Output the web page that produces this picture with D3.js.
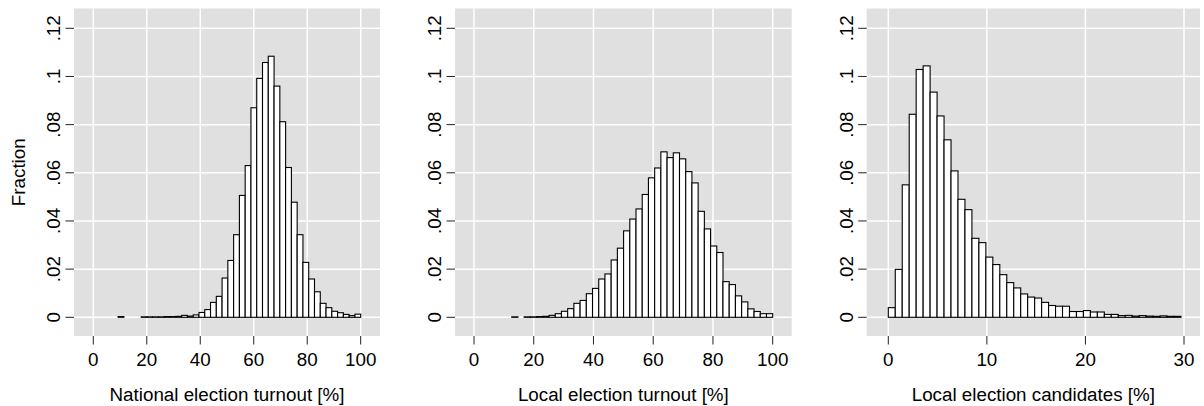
<!DOCTYPE html>
<html>
<head>
<meta charset="utf-8">
<script src="https://cdn.jsdelivr.net/npm/d3@7"></script>
<style>
body { margin: 0; background: #fff; }
text { font-family: "Liberation Sans", Arial, sans-serif; fill: #000; }
</style>
</head>
<body>
<svg id="chart" width="1204" height="406"></svg>
<script>
var yTicks = [0, 0.02, 0.04, 0.06, 0.08, 0.1, 0.12];
var yTickLabels = ["0", ".02", ".04", ".06", ".08", ".1", ".12"];

// national election turnout, 42 bins
var nationalTicks = [0, 20, 40, 60, 80, 100];
var nationalBinStart = 9.28;
var nationalBinWidth = 2.16;
var nationalFraction = [
    0.0003, 0, 0, 0, 0.0002, 0.0002, 0.0002, 0.0002, 0.0003, 0.0003,
    0.0004, 0.0008, 0.0005, 0.001, 0.002, 0.0032, 0.0062, 0.0087, 0.0163, 0.0236,
    0.0343, 0.0506, 0.063, 0.087, 0.0992, 0.1058, 0.1084, 0.096, 0.0812, 0.0622,
    0.0478, 0.0343, 0.0228, 0.0159, 0.0106, 0.0058, 0.004, 0.0025, 0.0019, 0.0012,
    0.0007, 0.0013
];

// local election turnout, 42 bins
var localTicks = [0, 20, 40, 60, 80, 100];
var localBinStart = 12.64;
var localBinWidth = 2.08;
var localFraction = [
    0.0002, 0, 0.0002, 0.0002, 0.0003, 0.0004, 0.0008, 0.0015, 0.0025, 0.0036,
    0.0058, 0.007, 0.0098, 0.012, 0.0159, 0.018, 0.0238, 0.0287, 0.0359, 0.0408,
    0.045, 0.051, 0.0579, 0.062, 0.0687, 0.0663, 0.0683, 0.0658, 0.0605, 0.0558,
    0.044, 0.0367, 0.0296, 0.0269, 0.0148, 0.0136, 0.0089, 0.0064, 0.0035, 0.0024,
    0.0015, 0.0015
];

// local election candidates, 42 bins
var candTicks = [0, 10, 20, 30];
var candBinStart = 0;
var candBinWidth = 0.707;
var candFraction = [
    0.004, 0.0199, 0.055, 0.0843, 0.1029, 0.1044, 0.0935, 0.0836, 0.0737, 0.0608,
    0.049, 0.0447, 0.0328, 0.031, 0.025, 0.0219, 0.0177, 0.0144, 0.0122, 0.0097,
    0.0084, 0.008, 0.0062, 0.0049, 0.0046, 0.0046, 0.0024, 0.0024, 0.0028, 0.0022,
    0.0022, 0.0012, 0.0012, 0.0007, 0.0008, 0.0005, 0.0007, 0.0005, 0.0004, 0.0006,
    0.0004, 0.0004
];

var panels = [
    {title: "National election turnout [%]", ticks: nationalTicks, values: nationalFraction,
     start: nationalBinStart, width: nationalBinWidth,
     left: 74, right: 380, tick0: 93.3, tickEnd: 360.7, ylabel: "Fraction"},
    {title: "Local election turnout [%]", ticks: localTicks, values: localFraction,
     start: localBinStart, width: localBinWidth,
     left: 455, right: 791.7, tick0: 474, tickEnd: 772.7},
    {title: "Local election candidates [%]", ticks: candTicks, values: candFraction,
     start: candBinStart, width: candBinWidth,
     left: 866.7, right: 1200, tick0: 888.3, tickEnd: 1184}
];

var plotTop = 8.5, plotBottom = 336;
var fontSize = 18.8;
var svg = d3.select("#chart");

var y = d3.scaleLinear().domain([0, 0.12]).range([317.3, 28.3]);

function drawPanel(p) {
    var x = d3.scaleLinear()
        .domain([p.ticks[0], p.ticks[p.ticks.length - 1]])
        .range([p.tick0, p.tickEnd]);
    var g = svg.append("g");

    g.append("rect")
        .attr("x", p.left).attr("y", plotTop)
        .attr("width", p.right - p.left).attr("height", plotBottom - plotTop)
        .attr("fill", "#e0e0e0");

    // grid
    g.selectAll("line.hgrid").data(yTicks).enter().append("line")
        .attr("x1", p.left).attr("x2", p.right)
        .attr("y1", function(d) { return y(d); }).attr("y2", function(d) { return y(d); })
        .attr("stroke", "#fff").attr("stroke-width", 1.5);
    g.selectAll("line.vgrid").data(p.ticks).enter().append("line")
        .attr("x1", function(d) { return x(d); }).attr("x2", function(d) { return x(d); })
        .attr("y1", plotTop).attr("y2", plotBottom)
        .attr("stroke", "#fff").attr("stroke-width", 1.5);

    // bars (empty bins are not drawn)
    var bins = p.values.map(function(v, i) { return {x0: p.start + i * p.width, v: v}; })
        .filter(function(b) { return b.v > 0; });
    g.selectAll("rect.bar").data(bins).enter().append("rect")
        .attr("class", "bar")
        .attr("x", function(b) { return x(b.x0); })
        .attr("width", x(p.width) - x(0))
        .attr("y", function(b) { return y(b.v); })
        .attr("height", function(b) { return y(0) - y(b.v); })
        .attr("fill", "#fff").attr("stroke", "#000").attr("stroke-width", 1.1);

    // y axis ticks and labels
    g.selectAll("line.ytick").data(yTicks).enter().append("line")
        .attr("x1", p.left - 8.5).attr("x2", p.left)
        .attr("y1", function(d) { return y(d); }).attr("y2", function(d) { return y(d); })
        .attr("stroke", "#222").attr("stroke-width", 1);
    g.selectAll("text.ylab").data(yTicks).enter().append("text")
        .attr("transform", function(d) { return "translate(" + (p.left - 14) + "," + y(d) + ") rotate(-90)"; })
        .attr("text-anchor", "middle")
        .style("font-size", fontSize + "px")
        .text(function(d, i) { return yTickLabels[i]; });

    // x axis ticks and labels
    g.selectAll("line.xtick").data(p.ticks).enter().append("line")
        .attr("x1", function(d) { return x(d); }).attr("x2", function(d) { return x(d); })
        .attr("y1", plotBottom).attr("y2", plotBottom + 8.5)
        .attr("stroke", "#222").attr("stroke-width", 1);
    g.selectAll("text.xlab").data(p.ticks).enter().append("text")
        .attr("x", function(d) { return x(d); }).attr("y", 365.5)
        .attr("text-anchor", "middle")
        .style("font-size", fontSize + "px")
        .text(function(d) { return d; });

    g.append("text")
        .attr("x", (p.left + p.right) / 2).attr("y", 401)
        .attr("text-anchor", "middle")
        .style("font-size", fontSize + "px")
        .text(p.title);

    if (p.ylabel) {
        g.append("text")
            .attr("transform", "translate(25," + (plotTop + plotBottom) / 2 + ") rotate(-90)")
            .attr("text-anchor", "middle")
            .style("font-size", fontSize + "px")
            .text(p.ylabel);
    }
}

for (var i = 0; i < panels.length; i++) {
    drawPanel(panels[i]);
}
</script>
</body>
</html>
